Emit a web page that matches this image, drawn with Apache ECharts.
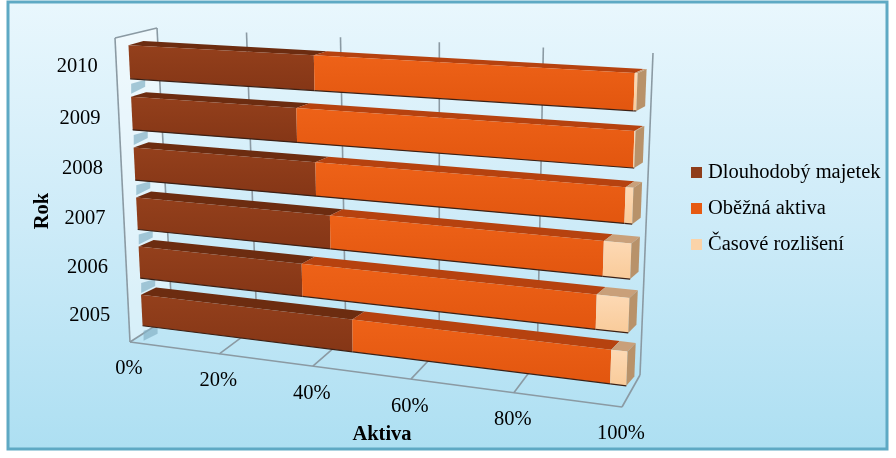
<!DOCTYPE html>
<html><head><meta charset="utf-8">
<style>html,body{margin:0;padding:0;background:#fff}#c{width:896px;height:458px}</style>
<script src="https://cdn.jsdelivr.net/npm/echarts@6/dist/echarts.min.js"></script>
</head><body><div id="c"></div>
<script>
const years = ['2010','2009','2008','2007','2006','2005'];
const dlouhodoby = [39.2,35.4,39.1,41.9,35.8,46.2];
const obezna = [60.3,64.4,59.5,53.1,58.2,50.8];
const casove = [0.5,0.2,1.4,5.0,6.0,3.0];
const xTicks = [0,20,40,60,80,100];
const names = ['Dlouhodobý majetek','Oběžná aktiva','Časové rozlišení'];

const FONT = '"Liberation Serif","Times New Roman",serif';
const GRID = {left:100,top:40,width:500,height:300};
// projection of the flat grid on to the planes of the 3D scene: [TL,TR,BR,BL]
const Q_BAR_FRONT = [[128,36],[638,63],[626,395],[143,334]];
const Q_BAR_BACK  = [[143,32],[647,59],[634,385.5],[158,326]];
const Q_WALL_BACK = [[157,28],[653,53],[640,375],[172,315]];
const Q_WALL_FRONT= [[115,38],[636,66],[622,407],[130,342]];

function quadMap(q){
  const [p0,p1,p2,p3]=q;
  const [x0,y0]=p0,[x1,y1]=p1,[x2,y2]=p2,[x3,y3]=p3;
  const sx=x0-x1+x2-x3, sy=y0-y1+y2-y3;
  const dx1=x1-x2, dx2=x3-x2, dy1=y1-y2, dy2=y3-y2;
  const den=dx1*dy2-dx2*dy1;
  const g=(sx*dy2-dx2*sy)/den, h=(dx1*sy-sx*dy1)/den;
  const a=x1-x0+g*x1, b=x3-x0+h*x3, c=x0;
  const d=y1-y0+g*y1, e=y3-y0+h*y3, f=y0;
  return (u,v)=>{const w=g*u+h*v+1;return [(a*u+b*v+c)/w,(d*u+e*v+f)/w];};
}
const mFront=quadMap(Q_BAR_FRONT), mBack=quadMap(Q_BAR_BACK), mWall=quadMap(Q_WALL_BACK), mWallF=quadMap(Q_WALL_FRONT);
const nu=x=>(x-GRID.left)/GRID.width, nv=y=>(y-GRID.top)/GRID.height;

const poly=(pts,fill,z2)=>({type:'polygon',z2:z2||0,shape:{points:pts},style:{fill:fill,stroke:null}});
const STYLES=[
 {front:['#94401c','#853616'],top:'#6c2c10',side:'#6c2c10'},
 {front:['#ee6218','#e2560f'],top:'#b6420f',side:'#b6420f'},
 {front:['#fdd9b4','#f9cb9a'],top:'#c9a07a',side:'#b8926a'}
];
function barItem(si){
  return function(params,api){
    const s=api.value(0), e=api.value(1), cat=api.value(2);
    const pa=api.coord([s,cat]), pb=api.coord([e,cat]);
    const band=api.size([0,1])[1], hb=band*0.325;
    const u0=nu(pa[0]),u1=nu(pb[0]),v0=nv(pa[1]-hb),v1=nv(pa[1]+hb);
    const st=STYLES[si];
    const ch=[
      poly([mFront(u0,v0),mFront(u1,v0),mBack(u1,v0),mBack(u0,v0)],st.top),
      {type:'polygon',shape:{points:[mFront(u0,v0),mFront(u1,v0),mFront(u1,v1),mFront(u0,v1)]},
       style:{fill:{type:'linear',x:0,y:0,x2:0,y2:1,colorStops:[{offset:0,color:st.front[0]},{offset:1,color:st.front[1]}]}}}
    ];
    if(si===2){
      ch.push(poly([mFront(u1,v0),mBack(u1,v0),mBack(u1,v1),mFront(u1,v1)],st.side));
    }
    ch.push({type:'polyline',shape:{points:[mFront(u0,v1),mFront(u1,v1)]},style:{stroke:'#3b2015',lineWidth:1.2,fill:null}});
    return {type:'group',children:ch};
  };
}
function stackData(si){
  return years.map((y,i)=>{
    const a=si===0?0:si===1?dlouhodoby[i]:dlouhodoby[i]+obezna[i];
    const b=a+[dlouhodoby,obezna,casove][si][i];
    return [a,b,i];
  });
}
const WALL='#8b9aa3';
const barSeries=names.map((n,si)=>({
  name:n,type:'custom',coordinateSystem:'cartesian2d',clip:false,z:5+si,silent:true,
  itemStyle:{color:[ '#8f3d1a','#e65a12','#fbd3a8'][si]},
  encode:{x:[0,1],y:2},data:stackData(si),renderItem:barItem(si)
}));
const frame={
  type:'custom',coordinateSystem:'cartesian2d',clip:false,z:2,silent:true,legendHoverLink:false,
  data:xTicks.map(t=>[t]),encode:{x:0},
  renderItem(params,api){
    const t=api.value(0), u=nu(api.coord([t,0])[0]);
    const ln=(a,b)=>({type:'line',shape:{x1:a[0],y1:a[1],x2:b[0],y2:b[1]},style:{stroke:WALL,lineWidth:1.6}});
    const ch=[];
    const fb=mWallF(u,1), bb=mWall(u,1);
    if(t>0&&t<100){ch.push(ln(mWall(u,0),bb));ch.push(ln(fb,bb));}
    if(t===0){
      ch.unshift(poly([mWallF(0,0),mWall(0,0),mWall(0,1),mWallF(0,1)],'rgba(255,255,255,0.4)'));
      ch.push(ln(mWallF(0,0),mWall(0,0)),ln(mWall(0,0),mWall(0,1)),ln(mWallF(0,0),mWallF(0,1)),ln(mWallF(0,1),mWall(0,1)),ln(mWallF(0,1),mWallF(1,1)));
    }
    if(t===100){
      ch.push(ln(mWall(1,0),mWall(1,1)),ln(mWall(1,1),mWallF(1,1)));
    }
    ch.push({type:'text',style:{text:t+'%',x:fb[0]-1,y:fb[1]+27,align:'center',verticalAlign:'middle',font:'20.5px '+FONT,fill:'#000'}});
    return {type:'group',children:ch};
  }
};
const yLabels={
  type:'custom',coordinateSystem:'cartesian2d',clip:false,z:4,silent:true,legendHoverLink:false,
  data:years.map((y,i)=>[0,i]),encode:{x:0,y:1},
  renderItem(params,api){
    const i=api.value(1), p=api.coord([0,i]);
    const a=mFront(nu(p[0]),nv(p[1]));
    const hb=api.size([0,1])[1]*0.325;
    const b=mFront(0,nv(p[1]+hb));
    return {type:'group',children:[
      poly([[b[0]+1,b[1]+5],[b[0]+15,b[1]+1],[b[0]+15,b[1]+8],[b[0]+1,b[1]+15]],'rgba(132,178,198,0.7)'),
      {type:'text',style:{text:years[i],x:a[0]-52,y:a[1]+5,align:'center',verticalAlign:'middle',font:'20.5px '+FONT,fill:'#000'}}
    ]};
  }
};
const option={
  animation:false,
  graphic:[
    {type:'rect',z:-10,shape:{x:8,y:2,width:879,height:447},silent:true,
     style:{fill:{type:'linear',x:0,y:0,x2:0,y2:1,colorStops:[{offset:0,color:'#e9f7fd'},{offset:0.5,color:'#cdebf8'},{offset:1,color:'#addff2'}]},stroke:'#5ea9c4',lineWidth:3}},
    {type:'text',z:10,silent:true,x:43,y:211,rotation:Math.PI/2,originX:0,originY:0,
     style:{text:'Rok',align:'center',verticalAlign:'middle',font:'bold 20.5px '+FONT,fill:'#000'}},
    {type:'text',z:10,silent:true,x:382,y:435,
     style:{text:'Aktiva',align:'center',verticalAlign:'middle',font:'bold 20.5px '+FONT,fill:'#000'}}
  ],
  grid:GRID,
  xAxis:{type:'value',min:0,max:100,show:false},
  yAxis:{type:'category',data:years,inverse:true,show:false},
  legend:{data:names,orient:'vertical',left:686,top:157,itemWidth:11,itemHeight:11,itemGap:15,icon:'rect',selectedMode:false,
    textStyle:{fontFamily:FONT,fontSize:20.5,color:'#000',padding:[0,0,0,1]}},
  series:[frame,yLabels].concat(barSeries)
};
echarts.init(document.getElementById('c'),null,{renderer:'canvas'}).setOption(option);
</script></body></html>
